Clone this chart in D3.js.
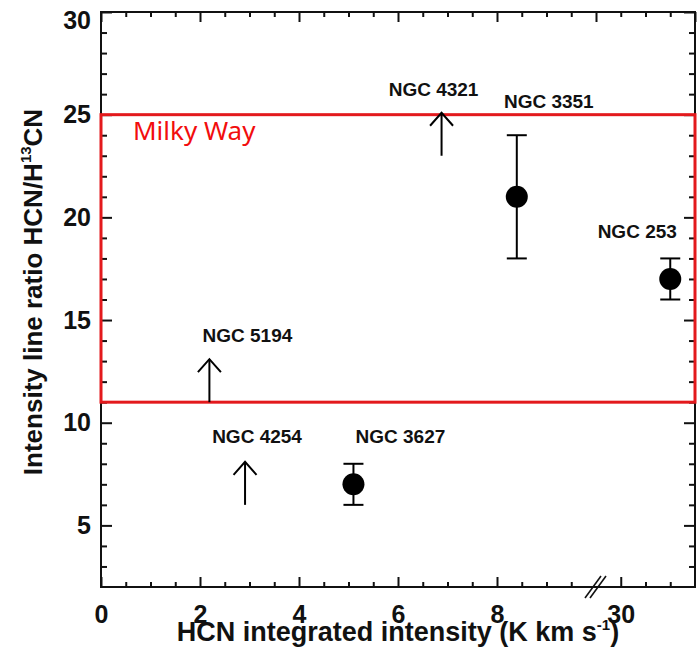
<!DOCTYPE html>
<html>
<head>
<meta charset="utf-8">
<script src="https://cdn.jsdelivr.net/npm/d3@7"></script>
<style>
  html, body { margin: 0; padding: 0; background: #fff; }
  svg { display: block; }
  .axis text { font-family: "Liberation Sans", Arial, sans-serif; font-weight: bold; font-size: 25px; fill: #111; }
  .axis line { stroke: #111; stroke-width: 2; }
  .title { font-family: "Liberation Sans", Arial, sans-serif; font-weight: bold; font-size: 26px; fill: #111; }
  .gal { font-family: "Liberation Sans", Arial, sans-serif; font-weight: bold; font-size: 19px; fill: #111; }
</style>
</head>
<body>
<svg id="chart" width="697" height="658"></svg>
<script>
// Galaxies with a measured HCN/H13CN ratio (points with error bars)
const detNames = ["NGC 3351", "NGC 253", "NGC 3627"];
const detX     = [8.4, 31.0, 5.1];     // HCN integrated intensity (K km/s)
const detY     = [21, 17, 7];          // line ratio
const detLow   = [18, 16, 6];
const detHigh  = [24, 18, 8];

// Galaxies with only a lower limit on the ratio (upward arrows)
const limNames = ["NGC 4321", "NGC 5194", "NGC 4254"];
const limX     = [6.88, 2.19, 2.91];
const limY     = [23, 11, 6];

// Range of the ratio measured in the Milky Way
const milkyWay = [11, 25];

// Axis tick labels
const xTickMajor = [0, 2, 4, 6, 8, 30];
const yTickMajor = [5, 10, 15, 20, 25, 30];

const svg = d3.select("#chart");
const L = 101, R = 695, T = 12, B = 587;

// The x axis is broken after 10: the last stretch shows 29.5 - 31.5
const xBreak = L + (R - L) * 10 / 12;
const x = d3.scaleLinear().domain([0, 10, 29.5, 31.5]).range([L, xBreak, xBreak, R]);
const xFrame = d3.scaleLinear().domain([0, 12]).range([L, R]);
const y = d3.scaleLinear().domain([2, 30]).range([B, T]);

const xMinor = d3.range(0.5, 10, 0.5).filter(v => v % 2 !== 0).concat([30.5, 31]);
const xTopMajor = d3.range(0, 12.01, 2);
const xTopMinor = d3.range(0.5, 12, 0.5).filter(v => v % 2 !== 0);
const yMinor = d3.range(3, 30, 1).filter(v => v % 5 !== 0);

function strip(g) { g.select(".domain").remove(); }

// bottom axis
svg.append("g").attr("class", "axis").attr("transform", `translate(0,${B})`)
  .call(d3.axisBottom(x).tickValues(xTickMajor).tickFormat(d3.format("d"))
        .tickSizeInner(-10).tickSizeOuter(0).tickPadding(18))
  .call(strip);
svg.append("g").attr("class", "axis").attr("transform", `translate(0,${B})`)
  .call(d3.axisBottom(x).tickValues(xMinor).tickFormat("").tickSizeInner(-5).tickSizeOuter(0))
  .call(strip);

// top axis (plain frame ticks)
svg.append("g").attr("class", "axis").attr("transform", `translate(0,${T})`)
  .call(d3.axisTop(xFrame).tickValues(xTopMajor).tickFormat("").tickSizeInner(-10).tickSizeOuter(0))
  .call(strip);
svg.append("g").attr("class", "axis").attr("transform", `translate(0,${T})`)
  .call(d3.axisTop(xFrame).tickValues(xTopMinor).tickFormat("").tickSizeInner(-5).tickSizeOuter(0))
  .call(strip);

// left axis
const yAx = svg.append("g").attr("class", "axis").attr("transform", `translate(${L},0)`)
  .call(d3.axisLeft(y).tickValues(yTickMajor).tickFormat(d3.format("d"))
        .tickSizeInner(-11).tickSizeOuter(0).tickPadding(10))
  .call(strip);
// keep the top label inside the page
yAx.selectAll(".tick").filter(d => d === 30).select("text").attr("dy", "0.64em");
svg.append("g").attr("class", "axis").attr("transform", `translate(${L},0)`)
  .call(d3.axisLeft(y).tickValues(yMinor).tickFormat("").tickSizeInner(-6).tickSizeOuter(0))
  .call(strip);

// right axis
svg.append("g").attr("class", "axis").attr("transform", `translate(${R},0)`)
  .call(d3.axisRight(y).tickValues(yTickMajor).tickFormat("").tickSizeInner(-11).tickSizeOuter(0))
  .call(strip);
svg.append("g").attr("class", "axis").attr("transform", `translate(${R},0)`)
  .call(d3.axisRight(y).tickValues(yMinor).tickFormat("").tickSizeInner(-6).tickSizeOuter(0))
  .call(strip);

// frame
svg.append("rect").attr("x", L).attr("y", T).attr("width", R - L).attr("height", B - T)
  .attr("fill", "none").attr("stroke", "#111").attr("stroke-width", 2);

// axis break marks
const brk = svg.append("g").attr("stroke", "#111").attr("stroke-width", 1.6);
[-3, 2].forEach(o => {
  brk.append("line")
    .attr("x1", xBreak + o - 8).attr("y1", B + 11)
    .attr("x2", xBreak + o + 8).attr("y2", B - 11);
});

// axis titles
const xt = svg.append("text").attr("class", "title").attr("font-size", 27)
  .style("font-size", "27px")
  .attr("x", 398).attr("y", 641).attr("text-anchor", "middle");
xt.append("tspan").text("HCN integrated intensity (K km s");
xt.append("tspan").style("font-size", "15px").attr("dy", -11).text("-1");
xt.append("tspan").attr("dy", 11).text(")");

const yt = svg.append("text").attr("class", "title")
  .attr("transform", "translate(42,292) rotate(-90)").attr("text-anchor", "middle");
yt.append("tspan").text("Intensity line ratio HCN/H");
yt.append("tspan").style("font-size", "15px").attr("dy", -11).text("13");
yt.append("tspan").attr("dy", 11).text("CN");

// Milky Way range
svg.append("rect")
  .attr("x", x(0)).attr("y", y(milkyWay[1]))
  .attr("width", x(31.5) - x(0)).attr("height", y(milkyWay[0]) - y(milkyWay[1]))
  .attr("fill", "none").attr("stroke", "#e3191c").attr("stroke-width", 3);
svg.append("text").attr("x", 133).attr("y", 140)
  .attr("font-family", "'Noto Sans', 'Open Sans', sans-serif").attr("font-size", 26)
  .attr("fill", "#f20d0d").text("Milky Way");

// error bars and points
const det = detNames.map((n, i) => ({ n, x: detX[i], y: detY[i], lo: detLow[i], hi: detHigh[i] }));
const dg = svg.append("g").attr("stroke", "#000").attr("stroke-width", 2);
det.forEach(d => {
  const cx = x(d.x);
  dg.append("line").attr("x1", cx).attr("x2", cx).attr("y1", y(d.lo)).attr("y2", y(d.hi));
  dg.append("line").attr("x1", cx - 10).attr("x2", cx + 10).attr("y1", y(d.lo)).attr("y2", y(d.lo));
  dg.append("line").attr("x1", cx - 10).attr("x2", cx + 10).attr("y1", y(d.hi)).attr("y2", y(d.hi));
});
svg.append("g").selectAll("circle").data(det).join("circle")
  .attr("cx", d => x(d.x)).attr("cy", d => y(d.y)).attr("r", 11).attr("fill", "#000");

// lower-limit arrows
const lim = limNames.map((n, i) => ({ n, x: limX[i], y: limY[i] }));
const ARROW = 43;
const ag = svg.append("g").attr("stroke", "#000").attr("stroke-width", 2).attr("fill", "none");
lim.forEach(d => {
  const ax = x(d.x), ay = y(d.y), tip = ay - ARROW;
  ag.append("line").attr("x1", ax).attr("x2", ax).attr("y1", ay).attr("y2", tip);
  ag.append("path").attr("d", `M${ax - 11.5},${tip + 13}L${ax},${tip}L${ax + 11.5},${tip + 13}`);
});

// galaxy names, placed relative to their marks
const labelOffset = {
  "NGC 3351": [32, -89],
  "NGC 253":  [-33, -41],
  "NGC 3627": [47, -41],
  "NGC 4321": [-8, -60],
  "NGC 5194": [38, -60],
  "NGC 4254": [12, -62]
};
const gl = svg.append("g");
det.forEach(d => {
  const o = labelOffset[d.n];
  gl.append("text").attr("class", "gal").attr("text-anchor", "middle")
    .attr("x", x(d.x) + o[0]).attr("y", y(d.y) + o[1]).text(d.n);
});
lim.forEach(d => {
  const o = labelOffset[d.n];
  gl.append("text").attr("class", "gal").attr("text-anchor", "middle")
    .attr("x", x(d.x) + o[0]).attr("y", y(d.y) + o[1]).text(d.n);
});
</script>
</body>
</html>
